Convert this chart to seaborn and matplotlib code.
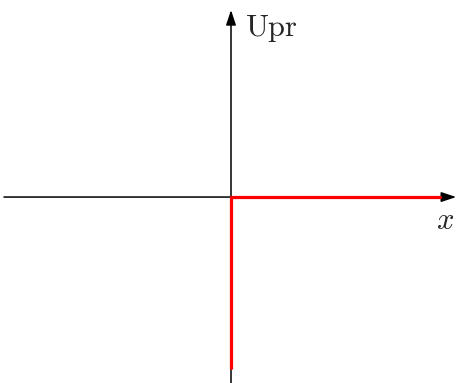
import matplotlib
matplotlib.use("Agg")
import matplotlib.pyplot as plt
import seaborn as sns
import pandas as pd

# step curve (red), in axis units
step_x = [0.0, 0.0, 1.0]
step_y = [-0.818, 0.0, 0.0]

# axis extents
x_axis = [-1.086, 1.077]
y_axis = [-0.89, 0.895]

y_label = r"$\mathrm{Upr}$"
x_label = r"$x$"

sns.set_style("white")
plt.rcParams["mathtext.fontset"] = "cm"

fig = plt.figure(figsize=(4.57, 3.83), dpi=100)
ax = fig.add_axes([0, 0, 1, 1])
ax.set_xlim(-1.105, 1.081)
ax.set_ylim(-0.89, 0.943)
ax.axis("off")

arrow = dict(arrowstyle="-|>,head_length=0.6,head_width=0.2", mutation_scale=15,
             lw=1.1, color="black", shrinkA=0, shrinkB=0)
ax.annotate("", xy=(x_axis[1], 0), xytext=(x_axis[0], 0), arrowprops=arrow, zorder=1)
ax.annotate("", xy=(0, y_axis[1]), xytext=(0, y_axis[0]), arrowprops=arrow, zorder=1)

df = pd.DataFrame({"x": step_x, "y": step_y})
sns.lineplot(data=df, x="x", y="y", sort=False, estimator=None, color="red",
             lw=2.3, ax=ax, zorder=3)
ax.set_xlabel("")
ax.set_ylabel("")

ax.text(0.067, 0.77, y_label, fontsize=22, ha="left", va="baseline")
ax.text(1.024, -0.11, x_label, fontsize=22, ha="center", va="center")

fig.savefig("out.png", dpi=100)
